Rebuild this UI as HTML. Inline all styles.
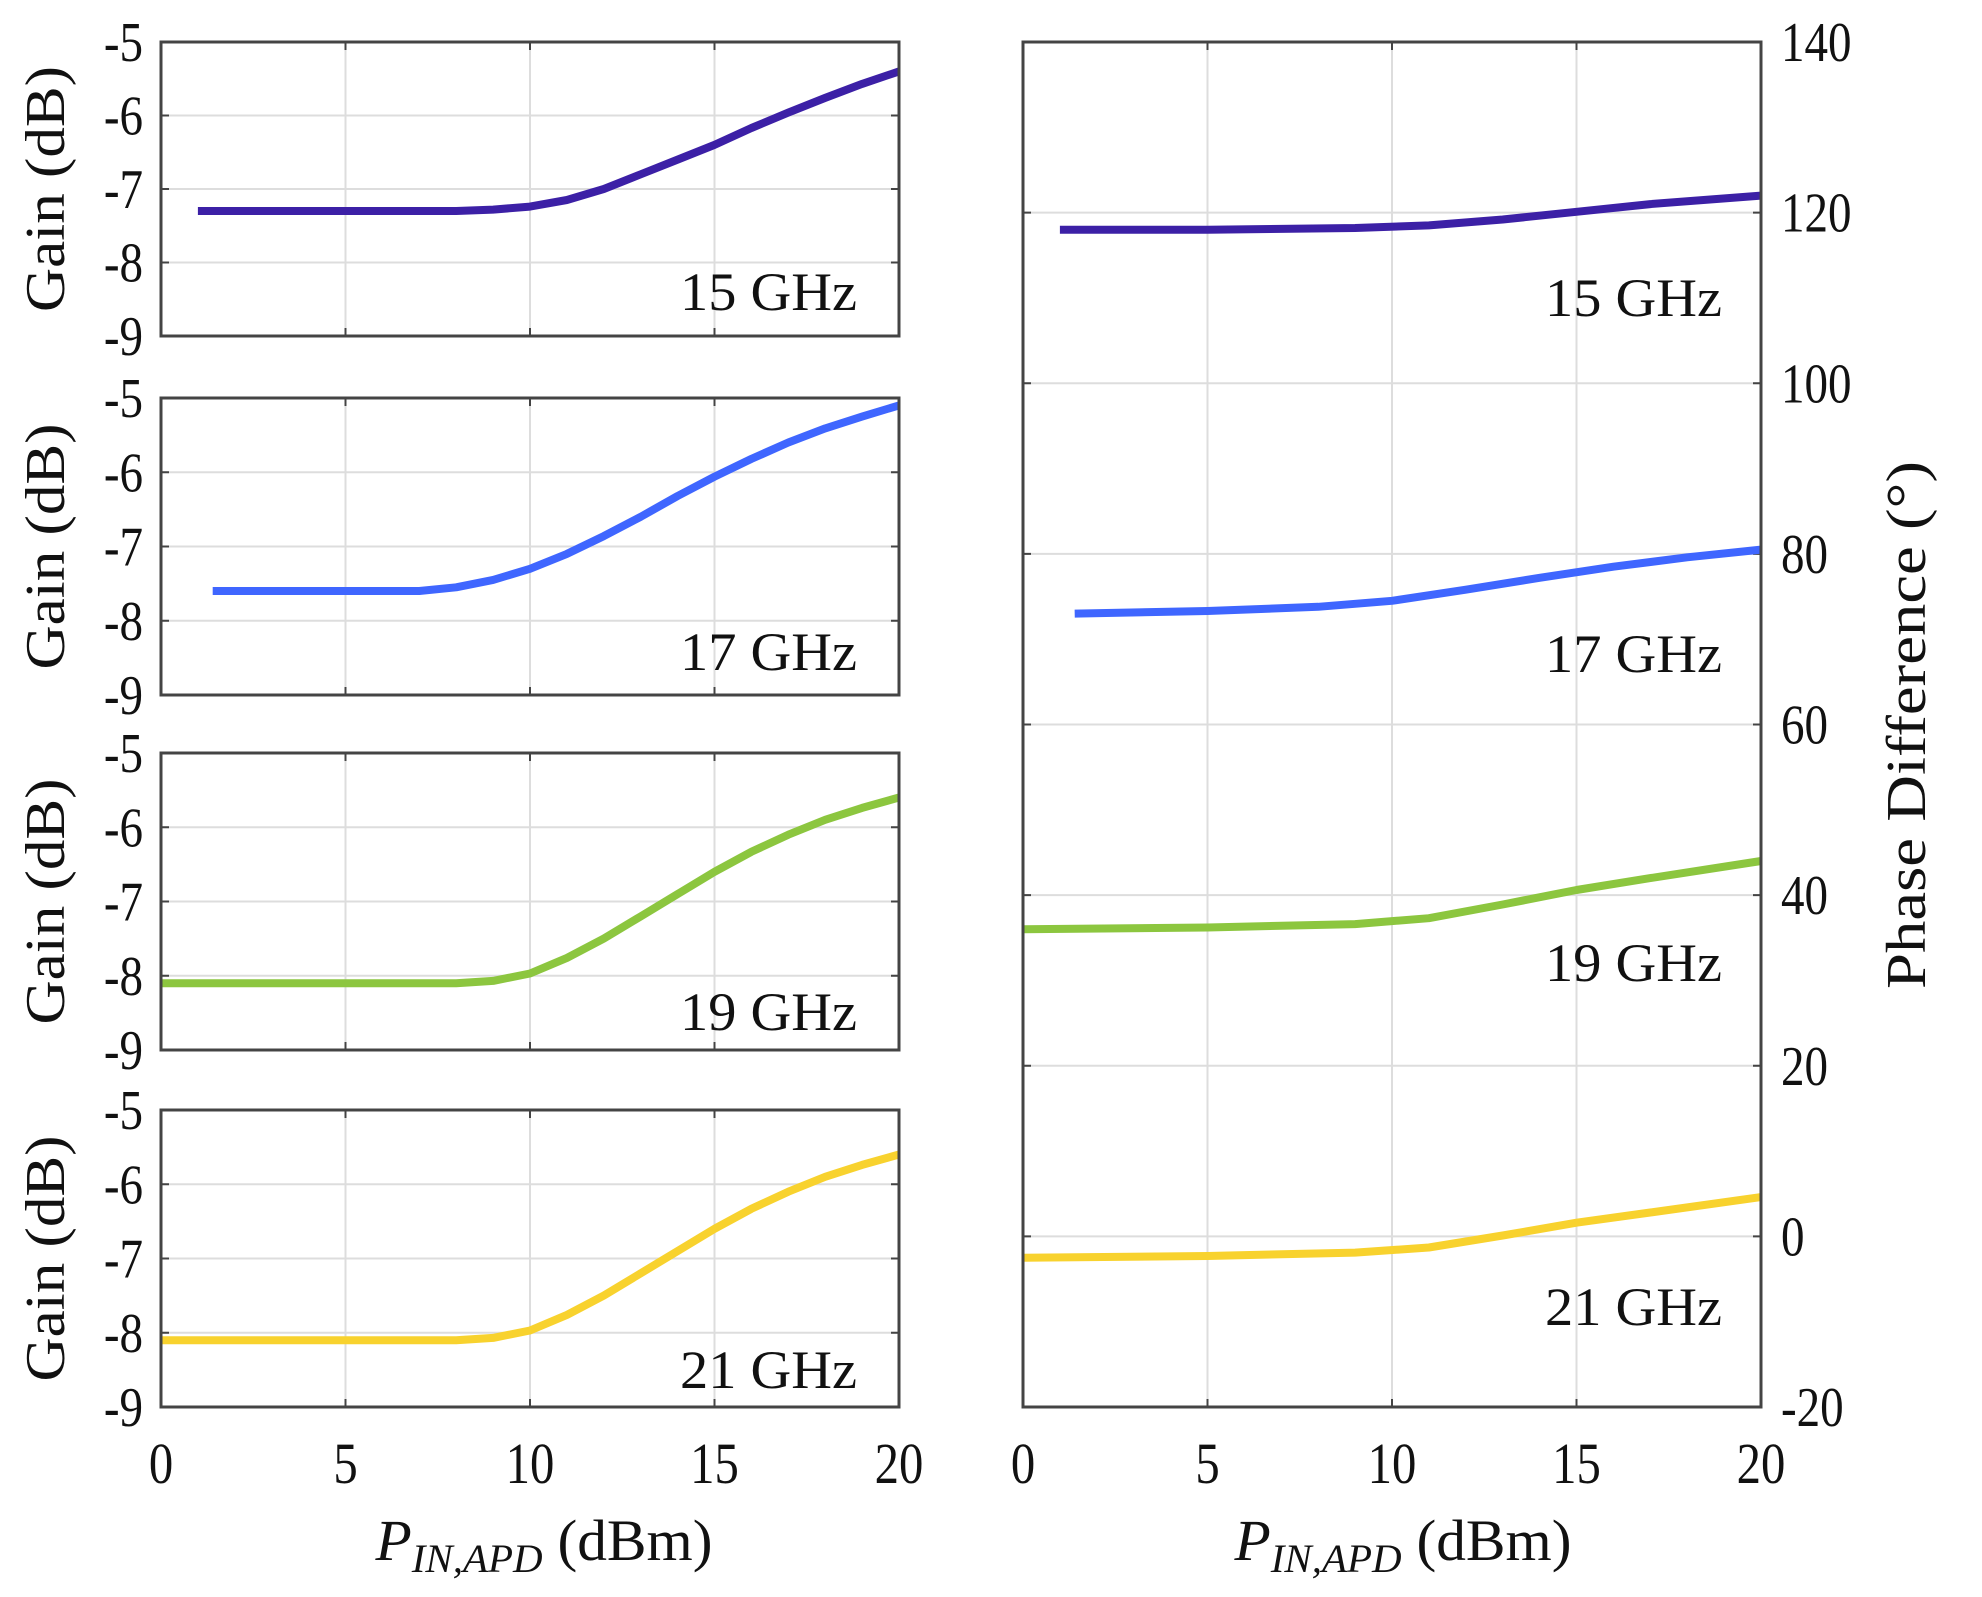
<!DOCTYPE html>
<html><head><meta charset="utf-8"><style>
html,body{margin:0;padding:0;background:#fff}
svg{display:block}
text{font-family:"Liberation Serif",serif;fill:#111}
</style></head><body>
<svg id="s" width="1982" height="1597" viewBox="0 0 1982 1597" xmlns="http://www.w3.org/2000/svg"></svg>
<script>
const S=document.getElementById('s');let h='';
const LX0=161,LX1=899,RX0=1023,RX1=1761;
const tops=[42,398,753,1110],bots=[336,695,1050,1407];
const cols=['#3c20a6','#3f66ff','#8cc63f','#f8d22e'];
const labs=['15 GHz','17 GHz','19 GHz','21 GHz'];
function xl(x,x0){return x0+x*(738/20);}
function tl(x,y,s,anchor,fs){return `<g transform="translate(${x},${y}) scale(0.84,1)"><text x="0" y="0" font-size="${fs||56}" text-anchor="${anchor}">${s}</text></g>`;}
tops.forEach((t,i)=>{const b=bots[i],hh=(b-t)/4;
 for(let k=1;k<4;k++){h+=`<line x1="${LX0}" x2="${LX1}" y1="${t+k*hh}" y2="${t+k*hh}" stroke="#ddd" stroke-width="2"/>`;}
 for(let k=1;k<4;k++){const x=xl(k*5,LX0);h+=`<line x1="${x}" x2="${x}" y1="${t}" y2="${b}" stroke="#ddd" stroke-width="2"/>`;
  h+=`<line x1="${x}" x2="${x}" y1="${t}" y2="${t+8}" stroke="#444" stroke-width="2"/><line x1="${x}" x2="${x}" y1="${b}" y2="${b-8}" stroke="#444" stroke-width="2"/>`;}
 for(let k=1;k<4;k++){const y=t+k*hh;h+=`<line x1="${LX0}" x2="${LX0+8}" y1="${y}" y2="${y}" stroke="#444" stroke-width="2"/><line x1="${LX1}" x2="${LX1-8}" y1="${y}" y2="${y}" stroke="#444" stroke-width="2"/>`;}
 for(let k=0;k<5;k++){h+=tl(143,t+k*hh+19,'-'+(5+k),'end');}
 h+=`<text transform="translate(64,${(t+b)/2}) rotate(-90)" font-size="56" text-anchor="middle" textLength="246" lengthAdjust="spacingAndGlyphs">Gain (dB)</text>`;
});
const pv=v=>1407-(v+20)*(1365/160);
for(let v=0;v<=120;v+=20){const y=pv(v);h+=`<line x1="${RX0}" x2="${RX1}" y1="${y}" y2="${y}" stroke="#ddd" stroke-width="2"/><line x1="${RX0}" x2="${RX0+8}" y1="${y}" y2="${y}" stroke="#444" stroke-width="2"/><line x1="${RX1}" x2="${RX1-8}" y1="${y}" y2="${y}" stroke="#444" stroke-width="2"/>`;}
for(let k=1;k<4;k++){const x=xl(k*5,RX0);h+=`<line x1="${x}" x2="${x}" y1="42" y2="1407" stroke="#ddd" stroke-width="2"/><line x1="${x}" x2="${x}" y1="42" y2="50" stroke="#444" stroke-width="2"/><line x1="${x}" x2="${x}" y1="1407" y2="1399" stroke="#444" stroke-width="2"/>`;}
for(let v=-20;v<=140;v+=20){h+=tl(1781,pv(v)+19,v,'start');}
h+=`<text transform="translate(1925,725) rotate(-90)" font-size="56" text-anchor="middle" textLength="528" lengthAdjust="spacingAndGlyphs">Phase Difference (°)</text>`;
[LX0,RX0].forEach(x0=>{for(let k=0;k<5;k++){h+=tl(xl(k*5,x0),1483,k*5,'middle',58);}});
[544,1403].forEach(cx=>{h+=`<text x="${cx}" y="1560" font-size="58" text-anchor="middle" textLength="337" lengthAdjust="spacingAndGlyphs"><tspan font-style="italic">P</tspan><tspan font-style="italic" font-size="40" dy="12">IN,APD</tspan><tspan dy="-12"> (dBm)</tspan></text>`;});
const G=[
 [[1,-7.3],[3,-7.3],[5,-7.3],[7,-7.3],[8,-7.3],[9,-7.28],[10,-7.24],[11,-7.15],[12,-7.0],[13,-6.8],[14,-6.6],[15,-6.4],[16,-6.17],[17,-5.96],[18,-5.76],[19,-5.57],[20,-5.4]],
 [[1.4,-7.6],[4,-7.6],[7,-7.6],[8,-7.55],[9,-7.45],[10,-7.3],[11,-7.1],[12,-6.86],[13,-6.6],[14,-6.32],[15,-6.06],[16,-5.82],[17,-5.6],[18,-5.41],[19,-5.25],[20,-5.1]],
 [[0,-8.1],[4,-8.1],[8,-8.1],[9,-8.07],[10,-7.97],[11,-7.76],[12,-7.5],[13,-7.2],[14,-6.9],[15,-6.6],[16,-6.33],[17,-6.1],[18,-5.9],[19,-5.74],[20,-5.6]],
 [[0,-8.1],[4,-8.1],[8,-8.1],[9,-8.07],[10,-7.97],[11,-7.76],[12,-7.5],[13,-7.2],[14,-6.9],[15,-6.6],[16,-6.33],[17,-6.1],[18,-5.9],[19,-5.74],[20,-5.6]]];
const P=[
 [[1,118],[5,118],[9,118.2],[11,118.5],[13,119.2],[15,120.1],[17,121],[20,122]],
 [[1.4,73],[5,73.3],[8,73.8],[10,74.5],[12,75.8],[14,77.2],[16,78.5],[18,79.6],[20,80.5]],
 [[0,36],[5,36.2],[9,36.6],[11,37.3],[13,38.9],[15,40.6],[17,42],[20,44]],
 [[0,-2.5],[5,-2.3],[9,-1.9],[11,-1.3],[13,0.1],[15,1.6],[17,2.8],[20,4.6]]];
function path(pts){let d='';pts.forEach((p,i)=>{d+=(i?'L':'M')+p[0].toFixed(1)+','+p[1].toFixed(1);});return d;}
G.forEach((g,i)=>{const t=tops[i],hh=(bots[i]-t)/4;
 h+=`<path d="${path(g.map(p=>[xl(p[0],LX0),t+(-5-p[1])*hh]))}" fill="none" stroke="${cols[i]}" stroke-width="8" stroke-linejoin="round"/>`;
 h+=`<rect x="${LX0}" y="${t}" width="${LX1-LX0}" height="${bots[i]-t}" fill="none" stroke="#444" stroke-width="3"/>`;
 h+=`<text x="857" y="${[310,670,1030,1388][i]}" font-size="54" text-anchor="end" textLength="177" lengthAdjust="spacingAndGlyphs">${labs[i]}</text>`;
});
P.forEach((g,i)=>{h+=`<path d="${path(g.map(p=>[xl(p[0],RX0),pv(p[1])]))}" fill="none" stroke="${cols[i]}" stroke-width="8" stroke-linejoin="round"/>`;
 h+=`<text x="1722" y="${[316,672,981,1325][i]}" font-size="54" text-anchor="end" textLength="177" lengthAdjust="spacingAndGlyphs">${labs[i]}</text>`;});
h+=`<rect x="${RX0}" y="42" width="${RX1-RX0}" height="1365" fill="none" stroke="#444" stroke-width="3"/>`;
S.innerHTML=h;
</script>
</body></html>
